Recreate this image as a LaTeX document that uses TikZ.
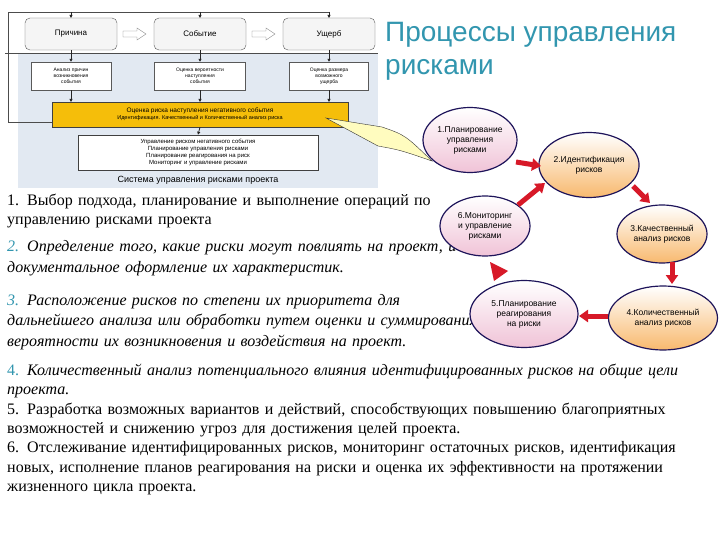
\documentclass[tikz,border=0pt]{standalone}
\usepackage{fontspec}
\setmainfont{Liberation Serif}
\newfontfamily\sans{Liberation Sans}
\usetikzlibrary{shapes.geometric,arrows.meta}
\definecolor{teal1}{RGB}{50,150,175}
\definecolor{navy}{RGB}{30,20,90}
\definecolor{bgblue}{RGB}{226,233,242}
\definecolor{ora}{RGB}{245,190,10}
\definecolor{redA}{RGB}{215,25,40}
\definecolor{pinkE}{RGB}{240,195,215}
\definecolor{peachE}{RGB}{248,185,110}
\begin{document}
\begin{tikzpicture}[x=1pt,y=-1pt,
 rbox/.style={draw=gray!70!black,rounded corners=5pt,fill=gray!8,font=\sans\fontsize{8}{9}\selectfont,minimum width=92pt,minimum height=32pt},
 sbox/.style={draw=gray!70!black,fill=white,font=\sans\fontsize{5}{6}\selectfont,align=center,inner sep=1pt},
 dn/.style={-{Triangle[length=3pt,width=3pt]},gray!30!black,line width=0.8pt},
 ell/.style={ellipse,draw=navy,line width=1.2pt,font=\sans\fontsize{8.5}{10}\selectfont,align=center,inner sep=0pt},
 ra/.style={-{Triangle[length=9pt,width=12pt]},redA,line width=5pt},
 body/.style={anchor=north west,inner sep=0pt,align=left,text width=715pt}]
\useasboundingbox (0,0) rectangle (720,540);
\fill[white] (0,0) rectangle (720,540);
% top-left diagram
\fill[bgblue] (18,53) rectangle (378,188);
\draw[gray!60!black] (5,53) -- (378,53);
\draw[gray!60!black,line width=0.8pt] (52,122) -- (8,122) -- (8,12) -- (330,12);
\node[rbox] (pr) at (71,34) {Причина};
\node[rbox] (so) at (200,34) {Событие};
\node[rbox] (us) at (329,34) {Ущерб};
\foreach \x in {71,200,329} \draw[dn] (\x,12) -- (\x,18);
\draw[gray,fill=white] (123,31)--(137,31)--(137,28)--(146,34)--(137,40)--(137,37)--(123,37)--cycle;
\draw[gray,fill=white] (252,31)--(266,31)--(266,28)--(275,34)--(266,40)--(266,37)--(252,37)--cycle;
\node[sbox,minimum width=80pt,minimum height=28pt] (a1) at (71,76) {Анализ причин\\возникновения\\события};
\node[sbox,minimum width=91pt,minimum height=28pt] (a2) at (200,76) {Оценка вероятности\\наступления\\события};
\node[sbox,minimum width=79pt,minimum height=28pt] (a3) at (329,76) {Оценка размера\\возможного\\ущерба};
\draw[dn] (pr.south) -- (a1.north);
\draw[dn] (so.south) -- (a2.north);
\draw[dn] (us.south) -- (a3.north);
\node[draw=gray!50!black,fill=ora,minimum width=296pt,minimum height=25pt,font=\sans\fontsize{6.5}{8}\selectfont,align=center,inner sep=0pt] (yb) at (200,114.5) {Оценка риска наступления негативного события\\[-1pt]{\fontsize{5.5}{6}\selectfont Идентификация. Качественный и Количественный анализ риска}};
\foreach \n/\x in {a1/71,a2/200,a3/329} \draw[dn] (\n.south) -- (\x,102);
\node[draw=gray!50!black,fill=white,minimum width=240pt,minimum height=35pt,font=\sans\fontsize{6}{7}\selectfont,align=center,inner sep=0pt] (mb) at (198,152.5) {Управление риском негативного события\\Планирование управления рисками\\Планирование реагирования на риск\\Мониторинг и управление рисками};
\draw[dn] (yb.south) -- (mb.north);
\node[font=\sans\fontsize{9}{10}\selectfont] (sys) at (198,180) {Система управления рисками проекта};
% title
\node[anchor=north west,font=\sans\fontsize{28}{33}\selectfont,text=teal1,align=left,inner sep=0pt] (ttl) at (385,22) {Процессы управления\\рисками};
% body text
\node[body,font=\fontsize{16}{19}\selectfont] (t1) at (7,194) {\raggedright 1. Выбор подхода, планирование и выполнение операций по\\управлению рисками проекта};
\node[body,font=\fontsize{16}{21}\selectfont\itshape] (t2) at (7,240) {\raggedright{\color{teal1}2.} Определение того, какие риски могут повлиять на проект, и\\документальное оформление их характеристик.};
\node[body,font=\fontsize{16}{20.5}\selectfont\itshape] (t3) at (7,294) {\raggedright{\color{teal1}3.} Расположение рисков по степени их приоритета для\\дальнейшего анализа или обработки путем оценки и суммирования\\вероятности их возникновения и воздействия на проект.};
\node[body,font=\fontsize{16}{19.3}\selectfont] (t4) at (7,364) {\raggedright{\color{teal1}4.} {\itshape Количественный анализ потенциального влияния идентифицированных рисков на общие цели\\проекта.}\\5. Разработка возможных вариантов и действий, способствующих повышению благоприятных\\возможностей и снижению угроз для достижения целей проекта.\\6. Отслеживание идентифицированных рисков, мониторинг остаточных рисков, идентификация\\новых, исполнение планов реагирования на риски и оценка их эффективности на протяжении\\жизненного цикла проекта.};
% ellipses
\node[ell,minimum width=94pt,minimum height=65pt,top color=white,bottom color=pinkE] (e1) at (470,140) {1.Планирование\\управления\\рисками};
\node[ell,minimum width=98pt,minimum height=65pt,top color=white,bottom color=peachE] (e2) at (589,165) {2.Идентификация\\рисков};
\node[ell,minimum width=90pt,minimum height=60pt,top color=white,bottom color=pinkE] (e6) at (485,226) {6.Мониторинг\\и управление\\рисками};
\node[ell,minimum width=90pt,minimum height=58pt,top color=white,bottom color=peachE] (e3) at (662,234) {3.Качественный\\анализ рисков};
\node[ell,minimum width=108pt,minimum height=67pt,top color=white,bottom color=pinkE] (e5) at (524,314) {5.Планирование\\реагирования\\на риски};
\node[ell,minimum width=109pt,minimum height=64pt,top color=white,bottom color=peachE] (e4) at (663,318) {4.Количественный\\анализ рисков};
% callout
\draw[gray!40!black,fill=yellow!25] (326,118) -- (382,127) .. controls (405,135) .. (432,161) .. controls (400,150) .. (378,146) -- cycle;
% red arrows
\draw[ra] (516,162) -- (541,166);
\draw[ra] (633,186) -- (650,203);
\draw[ra] (672,262) -- (672,284);
\draw[ra] (608,316) -- (579,316);
\fill[redA] (490,262) -- (508,271) -- (494,281) -- cycle;
\draw[ra] (518,205) -- (545,183);
\end{tikzpicture}
\end{document}
